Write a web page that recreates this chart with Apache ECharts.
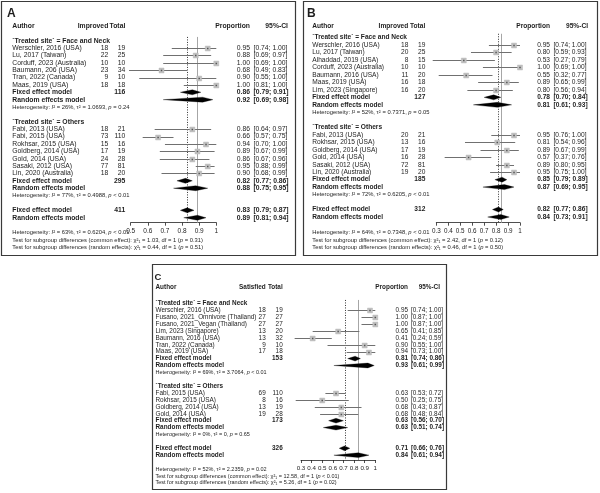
<!DOCTYPE html>
<html><head><meta charset="utf-8">
<script src="https://cdn.jsdelivr.net/npm/echarts@6/dist/echarts.min.js"></script>
<style>html,body{margin:0;padding:0;background:#fff}#c{width:600px;height:493px}</style>
</head><body><div id="c"></div>
<script>
// ===== DATA =====
const groupNames = ['`Treated site` = Face and Neck', '`Treated site` = Others'];

// Panel A (Improved)
const aTicks = [0.5, 0.6, 0.7, 0.8, 0.9, 1];
const aFaceAuthor = ['Werschler, 2016 (USA)','Lu, 2017 (Taiwan)','Corduff, 2023 (Australia)','Baumann, 206 (USA)','Tran, 2022 (Canada)','Maas, 2019 (USA)'];
const aFaceEvents = [18,22,10,23,9,18];
const aFaceTotal = [19,25,10,34,10,18];
const aFaceProp = [0.95,0.88,1.00,0.68,0.90,1.00];
const aFaceLow = [0.74,0.69,0.69,0.49,0.55,0.81];
const aFaceHigh = [1.00,0.97,1.00,0.83,1.00,1.00];
const aOtherAuthor = ['Fabi, 2013 (USA)','Fabi, 2015 (USA)','Rokhsar, 2015 (USA)','Goldberg, 2014 (USA)','Gold, 2014 (USA)','Sasaki, 2012 (USA)','Lin, 2020 (Australia)'];
const aOtherEvents = [18,73,15,17,24,77,18];
const aOtherTotal = [21,110,16,19,28,81,20];
const aOtherProp = [0.86,0.66,0.94,0.89,0.86,0.95,0.90];
const aOtherLow = [0.64,0.57,0.70,0.67,0.67,0.88,0.68];
const aOtherHigh = [0.97,0.75,1.00,0.99,0.96,0.99,0.99];
const aFixedTotal = [116,295,411];
const aFixedProp = [0.86,0.82,0.83];
const aFixedLow = [0.79,0.77,0.79];
const aFixedHigh = [0.91,0.86,0.87];
const aRandomProp = [0.92,0.88,0.89];
const aRandomLow = [0.69,0.75,0.81];
const aRandomHigh = [0.98,0.95,0.94];
const aHetI2 = ['26%','77%','63%'];
const aHetTau2 = ['1.0693','0.4988','0.6204'];
const aHetP = ['= 0.24','< 0.01','< 0.01'];
const aTestChi2 = ['1.03','0.44'];
const aTestP = ['= 0.31','= 0.51'];

// Panel B (Improved)
const bTicks = [0.3, 0.4, 0.5, 0.6, 0.7, 0.8, 0.9, 1];
const bFaceAuthor = ['Werschler, 2016 (USA)','Lu, 2017 (Taiwan)','Alhaddad, 2019 (USA)','Corduff, 2023 (Australia)','Baumann, 2016 (USA)','Maas, 2019 (USA)','Lim, 2023 (Singapore)'];
const bFaceEvents = [18,20,8,10,11,16,16];
const bFaceTotal = [19,25,15,10,20,18,20];
const bFaceProp = [0.95,0.80,0.53,1.00,0.55,0.89,0.80];
const bFaceLow = [0.74,0.59,0.27,0.69,0.32,0.65,0.56];
const bFaceHigh = [1.00,0.93,0.79,1.00,0.77,0.99,0.94];
const bOtherAuthor = ['Fabi, 2013 (USA)','Rokhsar, 2015 (USA)','Goldberg, 2014 (USA)','Gold, 2014 (USA)','Sasaki, 2012 (USA)','Lin, 2020 (Australia)'];
const bOtherEvents = [20,13,17,16,72,19];
const bOtherTotal = [21,16,19,28,81,20];
const bOtherProp = [0.95,0.81,0.89,0.57,0.89,0.95];
const bOtherLow = [0.76,0.54,0.67,0.37,0.80,0.75];
const bOtherHigh = [1.00,0.96,0.99,0.76,0.95,1.00];
const bFixedTotal = [127,185,312];
const bFixedProp = [0.78,0.85,0.82];
const bFixedLow = [0.70,0.79,0.77];
const bFixedHigh = [0.84,0.89,0.86];
const bRandomProp = [0.81,0.87,0.84];
const bRandomLow = [0.61,0.69,0.73];
const bRandomHigh = [0.93,0.95,0.91];
const bHetI2 = ['52%','72%','64%'];
const bHetTau2 = ['0.7371','0.6205','0.7348'];
const bHetP = ['= 0.05','< 0.01','< 0.01'];
const bTestChi2 = ['2.42','0.46'];
const bTestP = ['= 0.12','= 0.50'];

// Panel C (Satisfied)
const cTicks = [0.3, 0.4, 0.5, 0.6, 0.7, 0.8, 0.9, 1];
const cFaceAuthor = ['Werschler, 2016 (USA)','Fusano, 2021_Omnivore (Thailand)','Fusano, 2021_Vegan (Thailand)','Lim, 2023 (Singapore)','Baumann, 2016 (USA)','Tran, 2022 (Canada)','Maas, 2019 (USA)'];
const cFaceEvents = [18,27,27,13,13,9,17];
const cFaceTotal = [19,27,27,20,32,10,18];
const cFaceProp = [0.95,1.00,1.00,0.65,0.41,0.90,0.94];
const cFaceLow = [0.74,0.87,0.87,0.41,0.24,0.55,0.73];
const cFaceHigh = [1.00,1.00,1.00,0.85,0.59,1.00,1.00];
const cOtherAuthor = ['Fabi, 2015 (USA)','Rokhsar, 2015 (USA)','Goldberg, 2014 (USA)','Gold, 2014 (USA)'];
const cOtherEvents = [69,8,13,19];
const cOtherTotal = [110,16,19,28];
const cOtherProp = [0.63,0.50,0.68,0.68];
const cOtherLow = [0.53,0.25,0.43,0.48];
const cOtherHigh = [0.72,0.75,0.87,0.84];
const cFixedTotal = [153,173,326];
const cFixedProp = [0.81,0.63,0.71];
const cFixedLow = [0.74,0.56,0.66];
const cFixedHigh = [0.86,0.70,0.76];
const cRandomProp = [0.93,0.63,0.84];
const cRandomLow = [0.61,0.51,0.61];
const cRandomHigh = [0.99,0.74,0.94];
const cHetI2 = ['69%','0%','52%'];
const cHetTau2 = ['3.7064','0','2.2359'];
const cHetP = ['< 0.01','= 0.65','= 0.02'];
const cTestChi2 = ['12.58','5.26'];
const cTestP = ['< 0.01','= 0.02'];

// ===== ASSEMBLY =====
const panelsData = [
  {letter:'A', eventsLabel:'Improved', ticks:aTicks,
   groups:[{author:aFaceAuthor,events:aFaceEvents,total:aFaceTotal,prop:aFaceProp,low:aFaceLow,high:aFaceHigh},
           {author:aOtherAuthor,events:aOtherEvents,total:aOtherTotal,prop:aOtherProp,low:aOtherLow,high:aOtherHigh}],
   fixedTotal:aFixedTotal, fixedProp:aFixedProp, fixedLow:aFixedLow, fixedHigh:aFixedHigh,
   randomProp:aRandomProp, randomLow:aRandomLow, randomHigh:aRandomHigh,
   hetI2:aHetI2, hetTau2:aHetTau2, hetP:aHetP, testChi2:aTestChi2, testP:aTestP},
  {letter:'B', eventsLabel:'Improved', ticks:bTicks,
   groups:[{author:bFaceAuthor,events:bFaceEvents,total:bFaceTotal,prop:bFaceProp,low:bFaceLow,high:bFaceHigh},
           {author:bOtherAuthor,events:bOtherEvents,total:bOtherTotal,prop:bOtherProp,low:bOtherLow,high:bOtherHigh}],
   fixedTotal:bFixedTotal, fixedProp:bFixedProp, fixedLow:bFixedLow, fixedHigh:bFixedHigh,
   randomProp:bRandomProp, randomLow:bRandomLow, randomHigh:bRandomHigh,
   hetI2:bHetI2, hetTau2:bHetTau2, hetP:bHetP, testChi2:bTestChi2, testP:bTestP},
  {letter:'C', eventsLabel:'Satisfied', ticks:cTicks,
   groups:[{author:cFaceAuthor,events:cFaceEvents,total:cFaceTotal,prop:cFaceProp,low:cFaceLow,high:cFaceHigh},
           {author:cOtherAuthor,events:cOtherEvents,total:cOtherTotal,prop:cOtherProp,low:cOtherLow,high:cOtherHigh}],
   fixedTotal:cFixedTotal, fixedProp:cFixedProp, fixedLow:cFixedLow, fixedHigh:cFixedHigh,
   randomProp:cRandomProp, randomLow:cRandomLow, randomHigh:cRandomHigh,
   hetI2:cHetI2, hetTau2:cHetTau2, hetP:cHetP, testChi2:cTestChi2, testP:cTestP}
];

// layout (pixels)
const layouts = [
  {box:[1.5,1.5,294,254], letter:[7,14,12], row0:48, step:7.38, axisY:222.7, plotX:[130.7,216.3],
   name:12.3, ev:108.3, tot:125.3, prop:250, ci:253.5, ciHead:288, font:6.8, small:5.8, tick:6.5,
   headRow:-3, foot:[9.6,17.6,24.6], sq:5, dh:2.5},
  {box:[303.5,1.5,294,254], letter:[307,14,12], row0:45, step:7.48, axisY:222.7, plotX:[436.3,520],
   name:312.3, ev:408.3, tot:425.3, prop:550, ci:553.5, ciHead:588, font:6.6, small:5.8, tick:6.3,
   headRow:-2.55, foot:[9.6,17.6,24.6], sq:5, dh:2.5},
  {box:[152.5,264.5,294,225], letter:[154.5,277,9.5], row0:310.3, step:6.9, axisY:460, plotX:[301,375.3],
   name:155.5, ev:265.7, tot:282.7, prop:408, ci:411, ciHead:440, font:6.4, small:5.5, tick:6.2,
   headRow:-3.3, foot:[9.3,16,22.3], sq:5, dh:2.4}
];

const FONT = '"Liberation Sans", Arial, Helvetica, "DejaVu Sans", sans-serif';
const TXT = '#1e1e1e';

function rowsOf(d){
  const res = {groups:[]};
  let r = -1;
  d.groups.forEach(g => {
    const gr = {heading:r, studies:[]};
    r++;
    g.author.forEach(() => { gr.studies.push(r); r++; });
    gr.fixed = r++; gr.random = r++; gr.het = r++;
    r++;
    res.groups.push(gr);
  });
  res.fixed = r; res.random = r + 1;
  return res;
}

const grids = [], xAxes = [], yAxes = [], series = [];
const rowInfo = [];
panelsData.forEach((d, gi) => {
  const L = layouts[gi];
  const R = rowsOf(d); rowInfo.push(R);
  const yMin = -4;
  const top = L.row0 + yMin * L.step;
  const yMax = (L.axisY - L.row0) / L.step;
  grids.push({left:L.plotX[0], width:L.plotX[1]-L.plotX[0], top:top, height:L.axisY-top, containLabel:false, outerBoundsMode:'none'});
  xAxes.push({gridIndex:gi, type:'value', min:d.ticks[0], max:d.ticks[d.ticks.length-1], interval:0.1,
    axisLine:{show:true, onZero:false, lineStyle:{color:'#222', width:0.8}},
    axisTick:{show:true, inside:false, length:3, lineStyle:{color:'#222', width:0.8}},
    axisLabel:{show:true, fontSize:L.tick, color:TXT, fontFamily:FONT, margin:5.5, hideOverlap:false,
      formatter: v => String(Math.round(v*10)/10)},
    splitLine:{show:false}});
  yAxes.push({gridIndex:gi, type:'value', inverse:true, min:yMin, max:yMax, show:false, splitLine:{show:false}});

  // reference lines (overall fixed dotted, overall random solid)
  series.push({type:'custom', xAxisIndex:gi, yAxisIndex:gi, clip:false, silent:true, z:1,
    data:[[d.fixedProp[2], -1.5, yMax, 0],[d.randomProp[2], -1.5, yMax, 1]],
    encode:{x:0, y:[1,2]},
    renderItem:(p, api) => {
      const a = api.coord([api.value(0), api.value(1)]);
      const b = api.coord([api.value(0), api.value(2)]);
      const x = Math.round(a[0]) + 0.5;
      const dotted = api.value(3) === 0;
      return {type:'line', shape:{x1:x, y1:a[1], x2:x, y2:b[1]},
        style:{stroke: dotted ? '#333' : '#a6a6a6', lineWidth:1, lineDash: dotted ? [1,1.5] : null}};
    }});

  // study CIs and squares
  const studyData = [];
  d.groups.forEach((g, k) => g.prop.forEach((v, j) => studyData.push([v, g.low[j], g.high[j], R.groups[k].studies[j]])));
  series.push({type:'custom', xAxisIndex:gi, yAxisIndex:gi, clip:false, silent:true, z:2,
    data:studyData, encode:{x:[0,1,2], y:3},
    renderItem:(p, api) => {
      const r = api.value(3);
      const pl = api.coord([api.value(1), r]), ph = api.coord([api.value(2), r]), pe = api.coord([api.value(0), r]);
      const y = Math.round(pl[1]) + 0.5;
      const s = L.sq;
      return {type:'group', children:[
        {type:'line', shape:{x1:pl[0], y1:y, x2:ph[0], y2:y}, style:{stroke:'#707070', lineWidth:1}},
        {type:'rect', shape:{x:pe[0]-s/2, y:y-s/2, width:s, height:s}, style:{fill:'#c2c2c2', stroke:'#b0b0b0', lineWidth:0.4}},
        {type:'rect', shape:{x:pe[0]-0.75, y:y-0.75, width:1.5, height:1.5}, style:{fill:'#555'}}
      ]};
    }});

  // diamonds
  const dia = [];
  R.groups.forEach((gr, k) => {
    dia.push([d.fixedProp[k], d.fixedLow[k], d.fixedHigh[k], gr.fixed]);
    dia.push([d.randomProp[k], d.randomLow[k], d.randomHigh[k], gr.random]);
  });
  dia.push([d.fixedProp[2], d.fixedLow[2], d.fixedHigh[2], R.fixed]);
  dia.push([d.randomProp[2], d.randomLow[2], d.randomHigh[2], R.random]);
  series.push({type:'custom', xAxisIndex:gi, yAxisIndex:gi, clip:false, silent:true, z:3,
    data:dia, encode:{x:[0,1,2], y:3},
    renderItem:(p, api) => {
      const r = api.value(3);
      const pl = api.coord([api.value(1), r]), ph = api.coord([api.value(2), r]), pe = api.coord([api.value(0), r]);
      const h = L.dh;
      return {type:'polygon', shape:{points:[[pl[0],pl[1]],[pe[0],pe[1]-h],[ph[0],ph[1]],[pe[0],pe[1]+h]]},
        style:{fill:'#000', stroke:'#000', lineWidth:0.3}};
    }});
});

const chart = echarts.init(document.getElementById('c'), null, {renderer:'canvas'});
chart.setOption({animation:false, backgroundColor:'#fff', grid:grids, xAxis:xAxes, yAxis:yAxes, series:series});

// ===== TEXT =====
function T(text, x, y, align, size, bold, extra){
  return {type:'text', silent:true, z:10, style:Object.assign({text:text, x:x, y:y, textAlign:align, align:align,
    textVerticalAlign:'middle', verticalAlign:'middle', fontSize:size, fontFamily:FONT,
    fontWeight: bold ? 'bold' : 'normal', fill:TXT}, extra || {})};
}
function richSet(size){
  return {rich:{i:{fontStyle:'italic', fontSize:size, fontFamily:FONT, fill:TXT}}};
}
const els = [];
panelsData.forEach((d, gi) => {
  const L = layouts[gi];
  const R = rowInfo[gi];
  const Y = r => chart.convertToPixel({gridIndex:gi}, [d.ticks[0], r])[1];
  els.push({type:'rect', silent:true, z:0, shape:{x:L.box[0], y:L.box[1], width:L.box[2], height:L.box[3]},
    style:{fill:null, stroke:'#3a3a3a', lineWidth:1.2}});
  els.push(T(d.letter, L.letter[0], L.letter[1], 'left', L.letter[2], true));
  const hy = Y(L.headRow);
  els.push(T('Author', L.name, hy, 'left', L.font, true));
  els.push(T(d.eventsLabel, L.ev, hy, 'right', L.font, true));
  els.push(T('Total', L.tot, hy, 'right', L.font, true));
  els.push(T('Proportion', L.prop, hy, 'right', L.font, true));
  els.push(T('95%-CI', L.ciHead, hy, 'right', L.font, true));
  const ciTxt = (lo, hi) => '[' + lo.toFixed(2) + '; ' + hi.toFixed(2) + ']';
  const hetTxt = k => 'Heterogeneity: {i|I}² = ' + d.hetI2[k] + ', τ² = ' + d.hetTau2[k] + ', {i|p} ' + d.hetP[k];
  d.groups.forEach((g, k) => {
    const gr = R.groups[k];
    els.push(T(groupNames[k], L.name, Y(gr.heading), 'left', L.font, true));
    g.author.forEach((a, j) => {
      const y = Y(gr.studies[j]);
      els.push(T(a, L.name, y, 'left', L.font, false));
      els.push(T(String(g.events[j]), L.ev, y, 'right', L.font, false));
      els.push(T(String(g.total[j]), L.tot, y, 'right', L.font, false));
      els.push(T(g.prop[j].toFixed(2), L.prop, y, 'right', L.font, false));
      els.push(T(ciTxt(g.low[j], g.high[j]), L.ci, y, 'left', L.font, false));
    });
    let y = Y(gr.fixed);
    els.push(T('Fixed effect model', L.name, y, 'left', L.font, true));
    els.push(T(String(d.fixedTotal[k]), L.tot, y, 'right', L.font, true));
    els.push(T(d.fixedProp[k].toFixed(2), L.prop, y, 'right', L.font, true));
    els.push(T(ciTxt(d.fixedLow[k], d.fixedHigh[k]), L.ci, y, 'left', L.font, true));
    y = Y(gr.random);
    els.push(T('Random effects model', L.name, y, 'left', L.font, true));
    els.push(T(d.randomProp[k].toFixed(2), L.prop, y, 'right', L.font, true));
    els.push(T(ciTxt(d.randomLow[k], d.randomHigh[k]), L.ci, y, 'left', L.font, true));
    els.push(T(hetTxt(k), L.name, Y(gr.het), 'left', L.small, false, richSet(L.small)));
  });
  let y = Y(R.fixed);
  els.push(T('Fixed effect model', L.name, y, 'left', L.font, true));
  els.push(T(String(d.fixedTotal[2]), L.tot, y, 'right', L.font, true));
  els.push(T(d.fixedProp[2].toFixed(2), L.prop, y, 'right', L.font, true));
  els.push(T(ciTxt(d.fixedLow[2], d.fixedHigh[2]), L.ci, y, 'left', L.font, true));
  y = Y(R.random);
  els.push(T('Random effects model', L.name, y, 'left', L.font, true));
  els.push(T(d.randomProp[2].toFixed(2), L.prop, y, 'right', L.font, true));
  els.push(T(ciTxt(d.randomLow[2], d.randomHigh[2]), L.ci, y, 'left', L.font, true));
  const ay = chart.convertToPixel({gridIndex:gi}, [d.ticks[0], rowInfo[gi].random])[1];
  const axisY = L.axisY;
  els.push(T(hetTxt(2), L.name, axisY + L.foot[0], 'left', L.small, false, richSet(L.small)));
  els.push(T('Test for subgroup differences (common effect): χ²₁ = ' + d.testChi2[0] + ', df = 1 ({i|p} ' + d.testP[0] + ')',
    L.name, axisY + L.foot[1], 'left', L.small, false, richSet(L.small)));
  els.push(T('Test for subgroup differences (random effects): χ²₁ = ' + d.testChi2[1] + ', df = 1 ({i|p} ' + d.testP[1] + ')',
    L.name, axisY + L.foot[2], 'left', L.small, false, richSet(L.small)));
});
chart.setOption({graphic:{elements:els}});
</script>
</body></html>
